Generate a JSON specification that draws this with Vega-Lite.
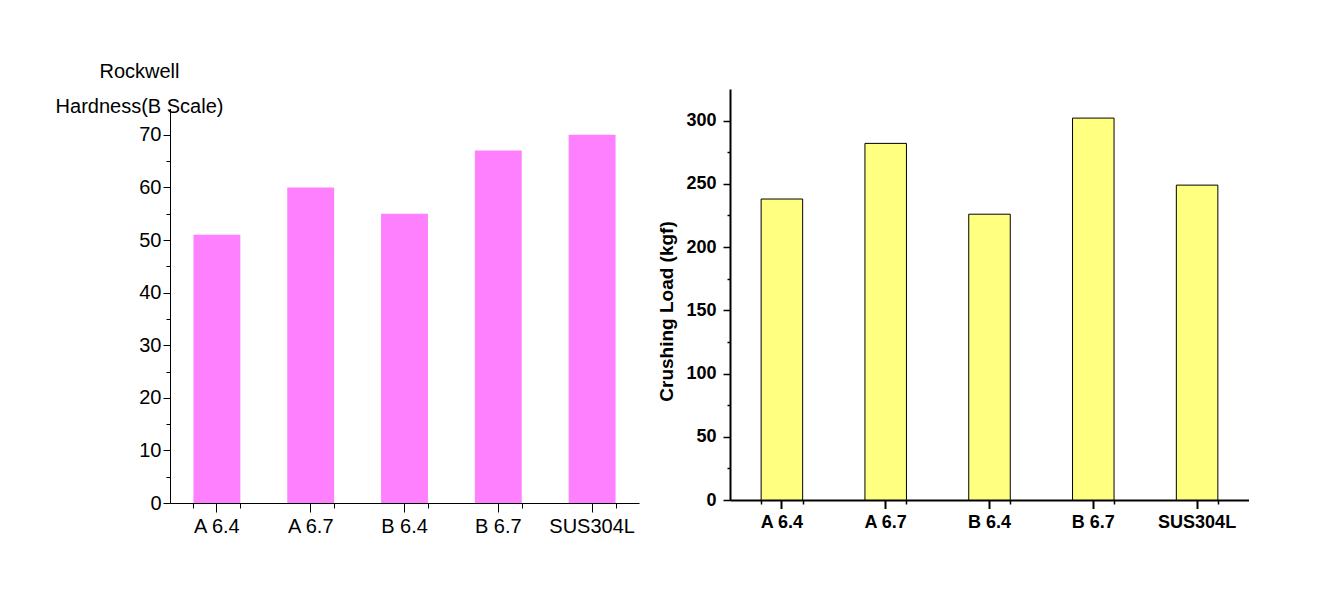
{
  "$schema": "https://vega.github.io/schema/vega-lite/v6.json",
  "background": "white",
  "padding": {"left": 55, "top": 61, "right": 0, "bottom": 0},
  "datasets": {
    "hardness": [
      {"sample": "A 6.4", "value": 51},
      {"sample": "A 6.7", "value": 60},
      {"sample": "B 6.4", "value": 55},
      {"sample": "B 6.7", "value": 67},
      {"sample": "SUS304L", "value": 70}
    ],
    "crush": [
      {"sample": "A 6.4", "value": 238},
      {"sample": "A 6.7", "value": 282},
      {"sample": "B 6.4", "value": 226},
      {"sample": "B 6.7", "value": 302},
      {"sample": "SUS304L", "value": 249}
    ]
  },
  "config": {
    "view": {"stroke": null},
    "axis": {
      "grid": false,
      "domainColor": "black",
      "tickColor": "black",
      "labelColor": "black",
      "titleColor": "black",
      "labelFont": "Liberation Sans",
      "titleFont": "Liberation Sans"
    }
  },
  "spacing": 18,
  "hconcat": [
    {
      "width": 469,
      "height": 414,
      "data": {"name": "hardness"},
      "layer": [
        {
          "mark": {"type": "bar", "color": "#FF80FF"},
          "encoding": {
            "x": {
              "field": "sample", "type": "nominal", "sort": null,
              "scale": {"paddingInner": 0.5, "paddingOuter": 0.25},
              "axis": {"orient": "bottom", "title": null, "labelAngle": 0, "labelFontSize": 20, "labelPadding": 4, "tickSize": 9, "tickWidth": 1, "domainWidth": 1.2}
            },
            "y": {
              "field": "value", "type": "quantitative",
              "scale": {"domain": [0, 75], "nice": false, "rangeMax": 19.5},
              "axis": {
                "values": [0, 5, 10, 15, 20, 25, 30, 35, 40, 45, 50, 55, 60, 65, 70],
                "labelExpr": "datum.value % 10 === 0 ? datum.label : ''",
                "tickSize": {"condition": {"test": "datum.value % 10 === 0", "value": 7}, "value": 4},
                "tickWidth": 1,
                "domainWidth": 1,
                "labelPadding": 2,
                "labelFontSize": 20,
                "title": ["Rockwell", "Hardness(B Scale)"],
                "titleAngle": 0,
                "titleAlign": "center",
                "titleBaseline": "alphabetic",
                "titleX": -31,
                "titleY": -12,
                "titleFontSize": 20,
                "titleFontWeight": "normal",
                "titleLineHeight": 35
              }
            }
          }
        },
        {
          "mark": {"type": "point", "opacity": 0},
          "encoding": {
            "x": {
              "field": "sample", "type": "nominal", "sort": null,
              "axis": {"orient": "bottom", "title": null, "labels": false, "domain": false, "tickBand": "extent", "tickSize": 5, "tickWidth": 1}
            }
          }
        }
      ],
      "resolve": {"axis": {"x": "independent"}}
    },
    {
      "width": 519,
      "height": 411,
      "data": {"name": "crush"},
      "layer": [
        {
          "mark": {"type": "bar", "fill": "#FFFF80", "stroke": "black", "strokeWidth": 1},
          "encoding": {
            "x": {
              "field": "sample", "type": "nominal", "sort": null,
              "scale": {"paddingInner": 0.6, "paddingOuter": 0.3},
              "axis": {"orient": "bottom", "title": null, "labelAngle": 0, "labelFontSize": 18, "labelFontWeight": "bold", "labelPadding": 5, "tickSize": 8.5, "tickWidth": 2, "domainWidth": 2}
            },
            "y": {
              "field": "value", "type": "quantitative",
              "scale": {"domain": [0, 325], "nice": false},
              "axis": {
                "values": [0, 25, 50, 75, 100, 125, 150, 175, 200, 225, 250, 275, 300],
                "labelExpr": "datum.value % 50 === 0 ? datum.label : ''",
                "tickSize": {"condition": {"test": "datum.value % 50 === 0", "value": 7}, "value": 3},
                "tickWidth": 1.5,
                "domainWidth": 2,
                "labelPadding": 7,
                "labelFontSize": 18,
                "labelFontWeight": "bold",
                "title": "Crushing Load (kgf)",
                "titleFontSize": 19,
                "titleFontWeight": "bold",
                "titlePadding": 9,
                "titleY": 222
              }
            }
          }
        },
        {
          "mark": {"type": "point", "opacity": 0},
          "encoding": {
            "x": {
              "field": "sample", "type": "nominal", "sort": null,
              "axis": {"orient": "bottom", "title": null, "labels": false, "domain": false, "tickBand": "extent", "tickSize": 4, "tickWidth": 1.5}
            }
          }
        }
      ],
      "resolve": {"axis": {"x": "independent"}}
    }
  ]
}
